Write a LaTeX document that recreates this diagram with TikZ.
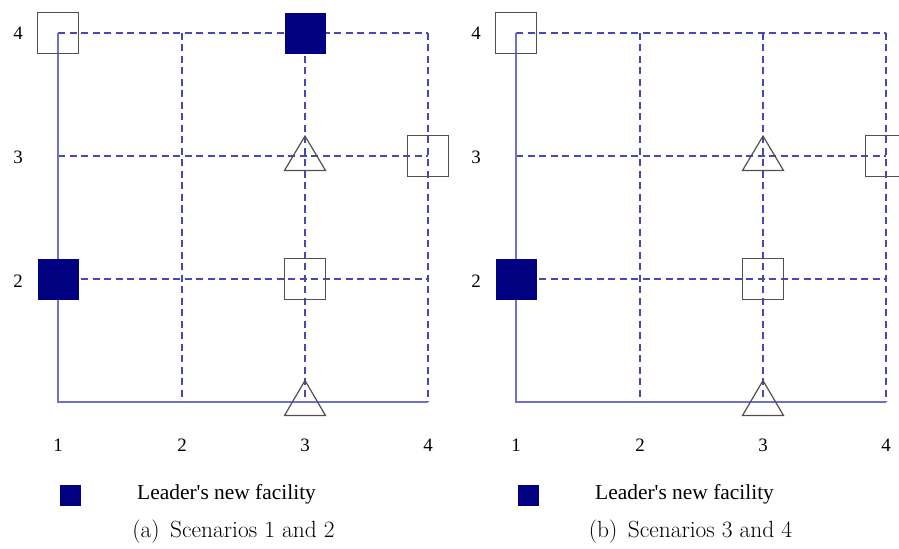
\documentclass[tikz,border=0pt]{standalone}
\usepackage{fontspec}
\newfontfamily\tnr{Liberation Serif}
\definecolor{lineblue}{RGB}{112,112,200}
\definecolor{dashblue}{RGB}{72,72,180}
\definecolor{navyfill}{RGB}{0,0,128}
\definecolor{boxgray}{RGB}{80,80,80}
\newcommand\gridpanel[2]{%
  % #1 = name prefix, #2 = x offset
  \begin{scope}[xshift=#2bp]
    \foreach \i/\xx in {1/58,2/182,3/305,4/428}{\coordinate (#1x\i) at (\xx,0);}
    \foreach \j/\yy in {4/33,3/156,2/279,1/402}{\coordinate (#1y\j) at (0,\yy);}
    \foreach \i in {1,...,4}{\foreach \j in {1,...,4}{\coordinate (#1p\i\j) at (#1x\i |- #1y\j);}}
    % dashed grid
    \foreach \j in {4,3,2}{\draw[gdash] (#1p1\j) -- (#1p4\j);}
    \foreach \i in {2,3,4}{\draw[gdash] (#1p\i4) -- (#1p\i1);}
    % solid axes
    \draw[gsolid] (#1p14) -- (#1p11) -- (#1p41);
    % empty markers
    \node[emptysq] (#1e14) at (#1p14) {};
    \node[emptysq] (#1e43) at (#1p43) {};
    \node[emptysq] (#1e32) at (#1p32) {};
    \node[fullsq] (#1f12) at (#1p12) {};
    \draw[tri] ($(#1p33)+(0,-20)$) -- ($(#1p33)+(-20.5,14.5)$) -- ($(#1p33)+(20.5,14.5)$) -- cycle;
    \draw[tri] ($(#1p31)+(0,-21.5)$) -- ($(#1p31)+(-20.5,13.5)$) -- ($(#1p31)+(20.5,13.5)$) -- cycle;
    % axis labels
    \node[axlab] (#1ly4) at (18,33) {4};
    \node[axlab] (#1ly3) at (18,157) {3};
    \node[axlab] (#1ly2) at (18,281) {2};
    \foreach \i in {1,...,4}{\node[axlab] (#1lx\i) at (#1x\i |- 0,445) {\i};}
    % legend
    \node[legsq] (#1legsq) at (70,495) {};
    \node[legtext, anchor=west] (#1legtext) at (137,494) {Leader's new facility};
  \end{scope}}
\usetikzlibrary{calc}
\begin{document}
\begin{tikzpicture}[x=1bp,y=-1bp,
  gsolid/.style={draw=lineblue, line width=1.8bp},
  gdash/.style={draw=dashblue, line width=1.8bp, dash pattern=on 7bp off 4.5bp},
  emptysq/.style={rectangle, draw=boxgray, line width=1.3bp, minimum size=41bp, inner sep=0pt},
  fullsq/.style={rectangle, draw=navyfill, fill=navyfill, line width=0.8bp, minimum size=40bp, inner sep=0pt},
  legsq/.style={rectangle, draw=navyfill, fill=navyfill, minimum size=20bp, inner sep=0pt},
  tri/.style={draw=boxgray, line width=1.2bp, line join=miter},
  axlab/.style={font=\tnr\fontsize{19}{22}\selectfont, inner sep=0pt},
  legtext/.style={font=\tnr\fontsize{21.5}{25}\selectfont, inner sep=0pt},
  captext/.style={font=\fontsize{23.5}{28}\selectfont, inner sep=0pt}]
\useasboundingbox (0,0) rectangle (899,549);
\gridpanel{a}{0}
\gridpanel{b}{458}
\node[fullsq] (af34) at (ap34) {};
\node[fullsq] (bf24) at ([xshift=458bp]bp24) {};
\node[captext] (capa) at (233.5,532) {(a)\hspace{0.45em}Scenarios 1 and 2};
\node[captext] (capb) at (690.5,532) {(b)\hspace{0.45em}Scenarios 3 and 4};
\end{tikzpicture}
\end{document}
